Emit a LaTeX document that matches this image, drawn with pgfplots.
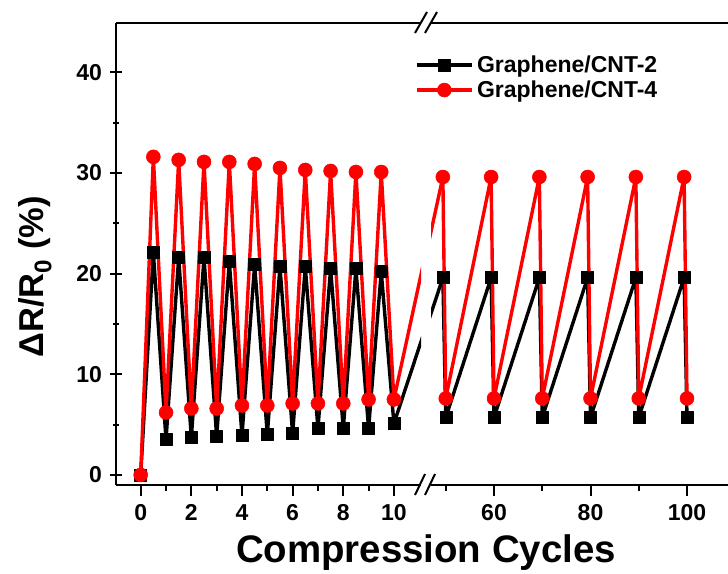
\documentclass[border=0pt]{standalone}
\usepackage{fontspec}
\setmainfont{Liberation Sans}
\usepackage{pgfplots}
\pgfplotsset{compat=1.18}

\definecolor{cred}{RGB}{255,0,0}

\begin{document}
\begin{tikzpicture}[x=1pt,y=1pt]
\path[use as bounding box] (0,0) rectangle (728,573);
\pgfplotsset{
  brk/.style={
    scale only axis, anchor=south west, height=462pt,
    ymin=-1, ymax=44.9,
    axis x line=box,
    xtick pos=bottom,
    tick align=outside,
    major tick length=11pt, minor tick length=6pt,
    every tick/.style={black, line width=2pt},
    axis line style={line width=2.2pt, -},
    ticklabel style={font=\fontsize{23}{23}\selectfont\bfseries},
    xticklabel style={yshift=-5pt},
    yticklabel style={xshift=-5pt},
    /pgf/number format/assume math mode=true,
    clip=true,
  },
  blk/.style={black, line width=3.4pt, line join=round, mark=square*, mark size=6pt, mark options={solid, line width=0.5pt}},
  rd/.style={cred, line width=3.4pt, line join=round, mark=*, mark size=7pt, mark options={solid, line width=0.5pt}},
}

% left part: cycles 0-10
\begin{axis}[brk, at={(116pt,88pt)}, width=305pt,
  xmin=-0.975, xmax=11.07,
  axis y line=left, ytick pos=left, y axis line style={-},
  ytick={0,10,...,40}, minor ytick={5,15,...,35},
  xtick={0,2,...,10}, minor xtick={1,3,...,9}]
\addplot[blk] coordinates {(0,0)(0.5,22.1)(1,3.5)(1.5,21.6)(2,3.7)(2.5,21.6)(3,3.8)(3.5,21.2)(4,3.9)(4.5,20.9)(5,4.0)(5.5,20.7)(6,4.1)(6.5,20.7)(7,4.6)(7.5,20.5)(8,4.6)(8.5,20.5)(9,4.6)(9.5,20.2)(10,5.1)};
\addplot[blk, no markers] coordinates {(10,5.1)(11.907,19.6)};
\addplot[rd] coordinates {(0,0)(0.5,31.6)(1,6.2)(1.5,31.3)(2,6.6)(2.5,31.1)(3,6.6)(3.5,31.1)(4,6.9)(4.5,30.9)(5,6.9)(5.5,30.5)(6,7.1)(6.5,30.3)(7,7.1)(7.5,30.2)(8,7.1)(8.5,30.1)(9,7.5)(9.5,30.1)(10,7.5)};
\addplot[rd, no markers] coordinates {(10,7.5)(11.907,29.6)};
\end{axis}

% right part: cycles 50-100
\begin{axis}[brk, at={(431pt,88pt)}, width=297pt,
  xmin=46.94, xmax=108.5,
  axis y line=none, ytick=\empty,
  xtick={60,80,100}, minor xtick={50,70,90},
  legend image code/.code={\draw[mark repeat=2,mark phase=2,#1] plot coordinates {(0pt,0pt) (27.5pt,0pt) (55pt,0pt)};},
  legend cell align=left,
  legend style={draw=none, fill=none, inner sep=0pt,
    at={(axis description cs:-0.054,0.937)}, anchor=north west,
    font=\fontsize{23}{23}\selectfont\bfseries,
    nodes={inner sep=3.5pt}}]
\addplot[blk, no markers, forget plot] coordinates {(39.39,5.1)(49.4,19.6)};
\addplot[blk] coordinates {(49.4,19.6)(50,5.7)(59.4,19.6)(60,5.7)(69.4,19.6)(70,5.7)(79.4,19.6)(80,5.7)(89.4,19.6)(90,5.7)(99.4,19.6)(100,5.7)};
\addplot[rd, no markers, forget plot] coordinates {(39.39,7.5)(49.4,29.6)};
\addplot[rd] coordinates {(49.4,29.6)(50,7.6)(59.4,29.6)(60,7.6)(69.4,29.6)(70,7.6)(79.4,29.6)(80,7.6)(89.4,29.6)(90,7.6)(99.4,29.6)(100,7.6)};
\legend{Graphene/CNT-2,Graphene/CNT-4}
\end{axis}

% axis break marks
\draw[line width=2pt] (415,78)--(425,99) (425,78)--(435,99);
\draw[line width=2pt] (415,540)--(427,561) (425,540)--(437,561);

\node[rotate=90, anchor=base, font=\fontsize{34.5}{34.5}\selectfont\bfseries] at (43,296) {ΔR/R\textsubscript{0} (\%)};
\node[anchor=base, font=\fontsize{38.4}{38.4}\selectfont\bfseries] at (426,11) {Compression Cycles};
\end{tikzpicture}
\end{document}
